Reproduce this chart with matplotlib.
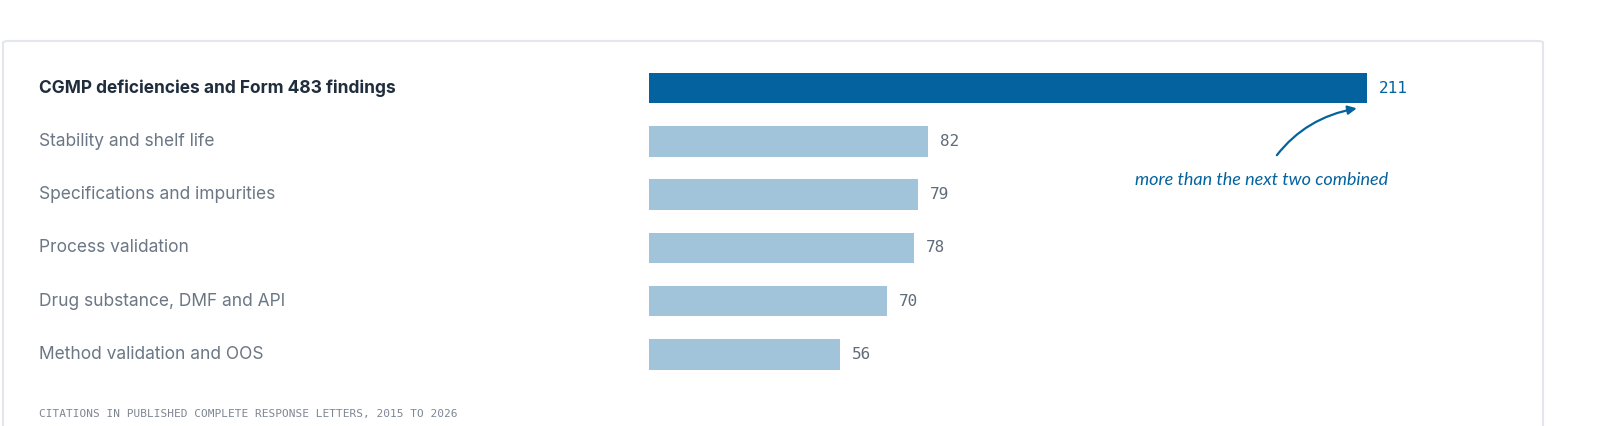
import matplotlib
matplotlib.use("Agg")
import matplotlib.pyplot as plt
from matplotlib.patches import FancyBboxPatch
import matplotlib.transforms as mt

categories = ["CGMP deficiencies and Form 483 findings", "Stability and shelf life",
              "Specifications and impurities", "Process validation",
              "Drug substance, DMF and API", "Method validation and OOS"]
values = [211, 82, 79, 78, 70, 56]
footer = "CITATIONS IN PUBLISHED COMPLETE RESPONSE LETTERS, 2015 TO 2026"
note = "more than the next two combined"

W, H = 1600, 426
fig = plt.figure(figsize=(16, 4.26), dpi=100)
fig.patch.set_facecolor("white")

# card border
card = FancyBboxPatch((3/W, -20/H), 1540/W, (385+20)/H,
                      boxstyle="round,pad=0,rounding_size=0.004", transform=fig.transFigure,
                      fc="white", ec="#e3e7ec", lw=1.5, zorder=-10)
fig.patches.append(card)

top, bottom = 61.5, 381
ax = fig.add_axes([649/W, 1-bottom/H, 718/W, (bottom-top)/H])
ax.patch.set_alpha(0)
ax.set_xlim(0, 211)
ax.set_ylim(len(values)-0.5, -0.5)
ax.axis("off")
dark, light = "#04639e", "#a2c4da"
tr = mt.blended_transform_factory(fig.transFigure, ax.transData)
for i, (c, v) in enumerate(zip(categories, values)):
    col = dark if i == 0 else light
    ax.barh(i, v, height=0.57, color=col, edgecolor="none")
    ax.text(v + 3.5, i, str(v), va="center", ha="left", family="DejaVu Sans Mono",
            fontsize=11.5, color=dark if i == 0 else "#5f6b78")
    ax.text(39/W, i, c, transform=tr, va="center", ha="left", family="Inter",
            fontsize=12.5, fontweight="bold" if i == 0 else "normal",
            color="#1f2d3d" if i == 0 else "#6b7785")

ax.annotate(note, xy=(211-3, 0.38), xytext=(180, 1.72), ha="center", va="center",
            fontsize=13, style="italic", family="Lato", color=dark, annotation_clip=False,
            arrowprops=dict(arrowstyle="-|>", color=dark, lw=1.6,
                            connectionstyle="arc3,rad=-0.25",
                            shrinkA=12, shrinkB=0))

fig.text(39/W, 1-414/H, footer, family="DejaVu Sans Mono", fontsize=8,
         color="#7d8793", va="center", ha="left")
fig.savefig("out.png", dpi=100, facecolor="white")
